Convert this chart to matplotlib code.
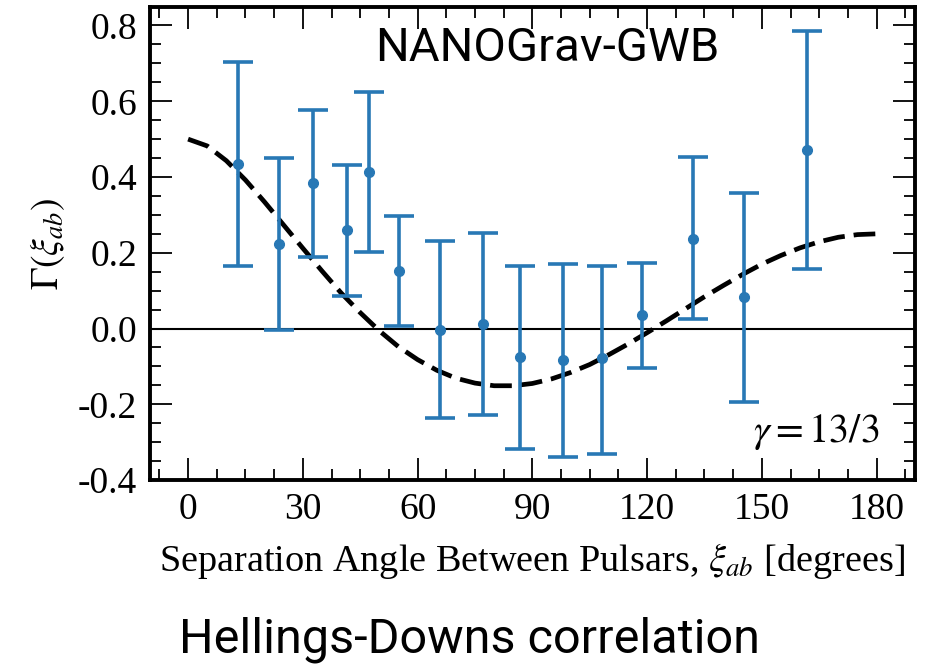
import numpy as np
import matplotlib
matplotlib.use("Agg")
from matplotlib import pyplot as plt
from matplotlib.ticker import MultipleLocator, FormatStrFormatter

sep_deg = [13.0, 23.8, 32.6, 41.5, 47.3, 55.1, 65.8, 77.0, 86.9, 97.9, 108.1, 118.8, 132.1, 145.4, 161.9]
gamma_val = [0.435, 0.222, 0.383, 0.259, 0.412, 0.153, -0.005, 0.013, -0.076, -0.084, -0.079, 0.037, 0.237, 0.082, 0.470]
err_hi = [0.704, 0.449, 0.578, 0.433, 0.625, 0.298, 0.230, 0.253, 0.164, 0.170, 0.166, 0.174, 0.454, 0.359, 0.786]
err_lo = [0.166, -0.005, 0.190, 0.087, 0.203, 0.008, -0.235, -0.227, -0.317, -0.340, -0.330, -0.103, 0.024, -0.193, 0.156]

# dashed Hellings-Downs curve, read every 5 degrees
hd_deg = [0, 5, 10, 15, 20, 25, 30, 35, 40, 45, 50, 55, 60, 65, 70, 75, 80, 85, 90,
          95, 100, 105, 110, 115, 120, 125, 130, 135, 140, 145, 150, 155, 160, 165, 170, 175, 180]
hd_val = [0.500, 0.482, 0.443, 0.392, 0.334, 0.273, 0.212, 0.152, 0.094, 0.042, -0.006, -0.048, -0.082,
          -0.110, -0.131, -0.144, -0.151, -0.151, -0.145, -0.133, -0.116, -0.095, -0.069, -0.041,
          -0.011, 0.020, 0.052, 0.084, 0.114, 0.143, 0.170, 0.193, 0.213, 0.229, 0.241, 0.248, 0.250]

plt.rcParams["font.family"] = "Liberation Serif"
plt.rcParams["mathtext.fontset"] = "stix"
plt.rcParams["axes.unicode_minus"] = False

fig = plt.figure(figsize=(9.25, 6.64), dpi=100)
ax = fig.add_axes([0.162, 0.277, 0.827, 0.712])

blue = "#2878b5"
lo = np.array(gamma_val) - np.array(err_lo)
hi = np.array(err_hi) - np.array(gamma_val)
ax.axhline(0, color="black", lw=1.5, zorder=1)
ax.plot(hd_deg, hd_val, color="black", lw=3.4, ls=(0, (4.6, 1.9)), zorder=2)
ax.errorbar(sep_deg, gamma_val, yerr=[lo, hi], fmt="o", color=blue, ms=7,
            elinewidth=2.6, capsize=11, capthick=2.6, zorder=3)

ax.set_xlim(-10, 190)
ax.set_ylim(-0.4, 0.848)
ax.xaxis.set_major_locator(MultipleLocator(30))
ax.xaxis.set_minor_locator(MultipleLocator(7.5))
ax.yaxis.set_major_locator(MultipleLocator(0.2))
ax.yaxis.set_minor_locator(MultipleLocator(0.05))
ax.yaxis.set_major_formatter(FormatStrFormatter("%.1f"))
ax.tick_params(which="both", direction="in", top=True, right=True, width=1.3, labelsize=27)
ax.tick_params(which="major", length=16, pad=9)
ax.tick_params(which="minor", length=8)
for s in ax.spines.values():
    s.set_linewidth(2.8)

ax.set_xlabel(r"Separation Angle Between Pulsars, $\xi_{ab}$ [degrees]", fontsize=27.5, labelpad=10)
ax.set_ylabel(r"$\Gamma(\xi_{ab})$", fontsize=27, labelpad=8)

ax.text(0.52, 0.886, "NANOGrav-GWB", transform=ax.transAxes, fontsize=34,
        family="Roboto", ha="center", va="baseline")
ax.text(0.954, 0.08, r"$\gamma = 13/3$", transform=ax.transAxes, fontsize=29,
        ha="right", va="baseline")
fig.text(0.508, 0.0166, "Hellings-Downs correlation", fontsize=35, family="Roboto",
         ha="center", va="baseline")

fig.savefig("out.png", dpi=100)
